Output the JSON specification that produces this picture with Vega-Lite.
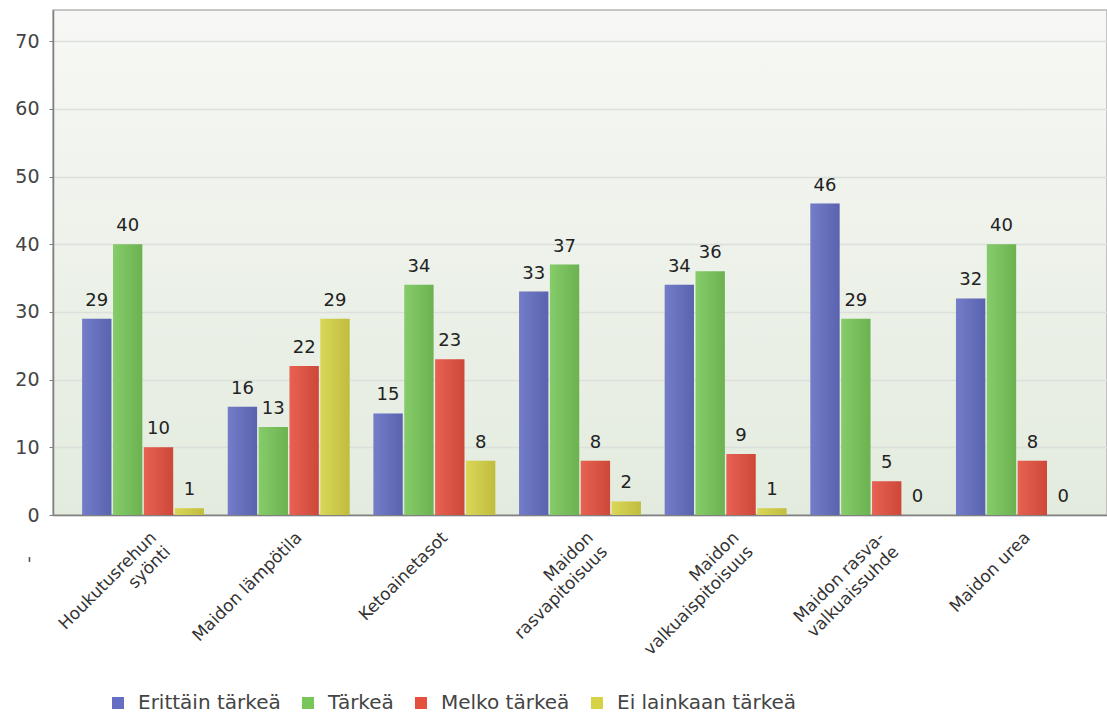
{
  "$schema": "https://vega.github.io/schema/vega-lite/v6.json",
  "width": 1054,
  "height": 505,
  "autosize": {"type": "none"},
  "padding": {"left": 53, "top": 10, "right": 0, "bottom": 201},
  "background": "#ffffff",
  "config": {
    "font": "DejaVu Sans",
    "view": {
      "stroke": "#b4b4b4",
      "strokeWidth": 1.5,
      "fill": {
        "gradient": "linear",
        "x1": 0, "y1": 0, "x2": 0, "y2": 1,
        "stops": [
          {"offset": 0, "color": "#f7f8f5"},
          {"offset": 1, "color": "#e3ebde"}
        ]
      }
    }
  },
  "data": {
    "values": [
      {"kohde": "Houkutusrehun syönti", "vastaus": "Erittäin tärkeä", "n": 29},
      {"kohde": "Houkutusrehun syönti", "vastaus": "Tärkeä", "n": 40},
      {"kohde": "Houkutusrehun syönti", "vastaus": "Melko tärkeä", "n": 10},
      {"kohde": "Houkutusrehun syönti", "vastaus": "Ei lainkaan tärkeä", "n": 1},
      {"kohde": "Maidon lämpötila", "vastaus": "Erittäin tärkeä", "n": 16},
      {"kohde": "Maidon lämpötila", "vastaus": "Tärkeä", "n": 13},
      {"kohde": "Maidon lämpötila", "vastaus": "Melko tärkeä", "n": 22},
      {"kohde": "Maidon lämpötila", "vastaus": "Ei lainkaan tärkeä", "n": 29},
      {"kohde": "Ketoainetasot", "vastaus": "Erittäin tärkeä", "n": 15},
      {"kohde": "Ketoainetasot", "vastaus": "Tärkeä", "n": 34},
      {"kohde": "Ketoainetasot", "vastaus": "Melko tärkeä", "n": 23},
      {"kohde": "Ketoainetasot", "vastaus": "Ei lainkaan tärkeä", "n": 8},
      {"kohde": "Maidon rasvapitoisuus", "vastaus": "Erittäin tärkeä", "n": 33},
      {"kohde": "Maidon rasvapitoisuus", "vastaus": "Tärkeä", "n": 37},
      {"kohde": "Maidon rasvapitoisuus", "vastaus": "Melko tärkeä", "n": 8},
      {"kohde": "Maidon rasvapitoisuus", "vastaus": "Ei lainkaan tärkeä", "n": 2},
      {"kohde": "Maidon valkuaispitoisuus", "vastaus": "Erittäin tärkeä", "n": 34},
      {"kohde": "Maidon valkuaispitoisuus", "vastaus": "Tärkeä", "n": 36},
      {"kohde": "Maidon valkuaispitoisuus", "vastaus": "Melko tärkeä", "n": 9},
      {"kohde": "Maidon valkuaispitoisuus", "vastaus": "Ei lainkaan tärkeä", "n": 1},
      {"kohde": "Maidon rasva-valkuaissuhde", "vastaus": "Erittäin tärkeä", "n": 46},
      {"kohde": "Maidon rasva-valkuaissuhde", "vastaus": "Tärkeä", "n": 29},
      {"kohde": "Maidon rasva-valkuaissuhde", "vastaus": "Melko tärkeä", "n": 5},
      {"kohde": "Maidon rasva-valkuaissuhde", "vastaus": "Ei lainkaan tärkeä", "n": 0},
      {"kohde": "Maidon urea", "vastaus": "Erittäin tärkeä", "n": 32},
      {"kohde": "Maidon urea", "vastaus": "Tärkeä", "n": 40},
      {"kohde": "Maidon urea", "vastaus": "Melko tärkeä", "n": 8},
      {"kohde": "Maidon urea", "vastaus": "Ei lainkaan tärkeä", "n": 0}
    ]
  },
  "encoding": {
    "x": {
      "field": "kohde",
      "type": "nominal",
      "sort": null,
      "scale": {"paddingInner": 0.163, "paddingOuter": 0.2},
      "axis": {
        "title": "-",
        "titleAngle": 90,
        "titleX": -15,
        "titleY": 44,
        "titleFontSize": 18,
        "titleFontWeight": "normal",
        "titleColor": "#444444",
        "labelAngle": -45,
        "labelAlign": "right",
        "labelBaseline": "top",
        "labelPadding": 14,
        "labelOffset": 5,
        "labelFontSize": 17,
        "labelColor": "#333333",
        "labelLineHeight": 20,
        "labelLimit": 0,
        "ticks": false,
        "domainColor": "#808080",
        "domainWidth": 1.5,
        "labelExpr": "datum.value == 'Houkutusrehun syönti' ? ['Houkutusrehun', 'syönti'] : datum.value == 'Maidon rasvapitoisuus' ? ['Maidon', 'rasvapitoisuus'] : datum.value == 'Maidon valkuaispitoisuus' ? ['Maidon', 'valkuaispitoisuus'] : datum.value == 'Maidon rasva-valkuaissuhde' ? ['Maidon rasva-', 'valkuaissuhde'] : datum.value"
      }
    },
    "xOffset": {
      "field": "vastaus",
      "type": "nominal",
      "sort": ["Erittäin tärkeä", "Tärkeä", "Melko tärkeä", "Ei lainkaan tärkeä"],
      "scale": {"paddingInner": 0.05}
    },
    "y": {
      "field": "n",
      "type": "quantitative",
      "scale": {"domain": [0, 74.6], "nice": false},
      "axis": {
        "title": null,
        "values": [0, 10, 20, 30, 40, 50, 60, 70],
        "gridColor": "#dcdfdc",
        "gridWidth": 1.5,
        "tickColor": "#808080",
        "tickSize": 4,
        "labelFontSize": 19,
        "labelColor": "#444444",
        "labelPadding": 10,
        "domainColor": "#808080",
        "domainWidth": 1.5
      }
    }
  },
  "layer": [
    {
      "mark": {"type": "bar"},
      "encoding": {
        "color": {
          "field": "vastaus",
          "type": "nominal",
          "sort": ["Erittäin tärkeä", "Tärkeä", "Melko tärkeä", "Ei lainkaan tärkeä"],
          "scale": {
            "domain": ["Erittäin tärkeä", "Tärkeä", "Melko tärkeä", "Ei lainkaan tärkeä"],
            "range": ["#646ec2", "#78c65a", "#e4503f", "#d6d245"]
          },
          "legend": {
            "title": null,
            "orient": "none",
            "direction": "horizontal",
            "legendX": 55,
            "legendY": 683,
            "symbolType": "square",
            "symbolSize": 144,
            "symbolStrokeWidth": 0,
            "symbolOpacity": 1,
            "labelFontSize": 20,
            "labelColor": "#444444",
            "labelOffset": 10,
            "columnPadding": 17,
            "labelLimit": 0,
            "padding": 0
          }
        }
      }
    },
    {
      "mark": {
        "type": "bar",
        "fill": {
          "gradient": "linear",
          "x1": 0, "y1": 0, "x2": 1, "y2": 0,
          "stops": [
            {"offset": 0, "color": "rgba(255,255,255,0.10)"},
            {"offset": 1, "color": "rgba(0,0,0,0.10)"}
          ]
        }
      }
    },
    {
      "mark": {"type": "text", "baseline": "bottom", "dy": -9, "fontSize": 18, "color": "#222222"},
      "encoding": {"text": {"field": "n", "type": "quantitative"}}
    }
  ]
}
